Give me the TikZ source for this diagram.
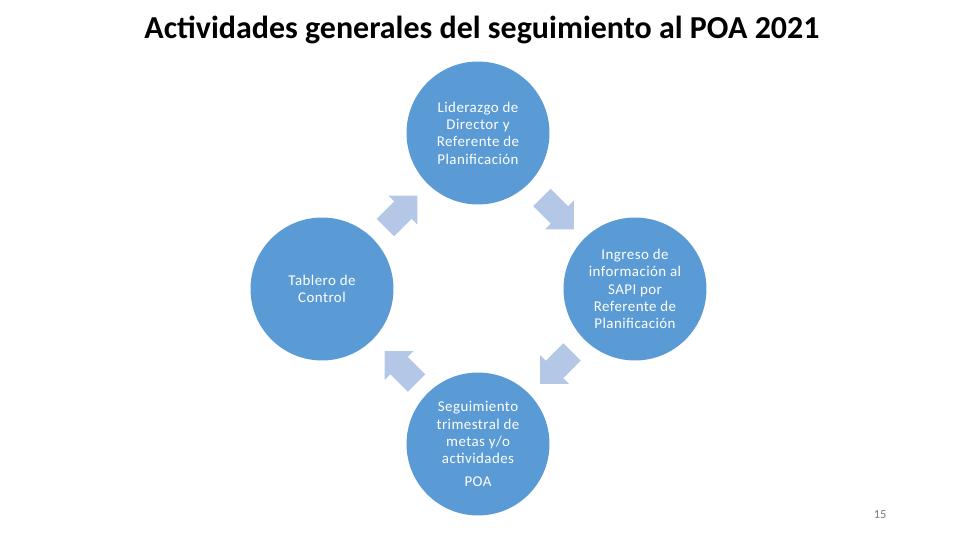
\documentclass[tikz,border=0pt]{standalone}
\usepackage{fontspec}
\setmainfont{Carlito}
\newfontfamily\phasefont[LetterSpace=3]{Carlito}
\usetikzlibrary{positioning,calc,shapes.arrows}
\definecolor{PhaseBlue}{RGB}{91,155,213}
\definecolor{ArrowBlue}{RGB}{180,199,231}
\definecolor{PageGray}{RGB}{120,120,120}

\begin{document}
\begin{tikzpicture}[
        x=0.02cm, y=-0.02cm,
        phase/.style={
            circle,
            fill=PhaseBlue,
            text=white,
            minimum size=2.86cm,
            inner sep=0pt,
            align=center,
            font=\phasefont\fontsize{8.5}{9.9}\selectfont
        },
        cyclearrow/.style={
            single arrow,
            fill=ArrowBlue,
            inner xsep=0pt,
            inner ysep=0.24cm,
            minimum height=0.9cm,
            single arrow head extend=0.16cm
        }
    ]
        \useasboundingbox (0,0) rectangle (960,540);
        \node[font=\bfseries\fontsize{18.2}{21}\selectfont] (title) at (482,30)
            {Actividades generales del seguimiento al POA 2021};

        \node[phase] (lid) at (478,133) {Liderazgo de\\Director y\\Referente de\\Planificación};
        \node[phase] (ing) at (635,289) {Ingreso de\\información al\\SAPI por\\Referente de\\Planificación};
        \node[phase] (seg) at (478,444) {Seguimiento\\trimestral de\\metas y/o\\actividades\\[3pt]POA};
        \node[phase] (tab) at (322,289) {Tablero de\\Control};

        \node[cyclearrow, rotate=-45] (a1) at ($(lid)!0.5!(ing)+(-3,-2)$) {};
        \node[cyclearrow, rotate=-135] (a2) at ($(ing)!0.5!(seg)+(4,-3)$) {};
        \node[cyclearrow, rotate=135] (a3) at ($(seg)!0.5!(tab)+(5,5)$) {};
        \node[cyclearrow, rotate=45] (a4) at ($(tab)!0.5!(lid)+(-3,5)$) {};

        \node[text=PageGray, font=\fontsize{7}{8}\selectfont] (page) at (880,515) {15};
    \end{tikzpicture}
\end{document}
